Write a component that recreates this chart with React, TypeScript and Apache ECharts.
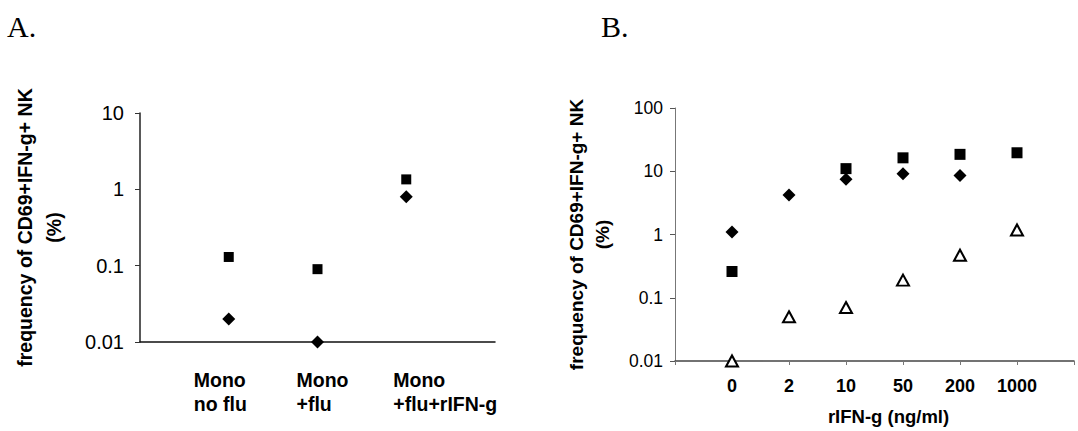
import React, { useEffect, useRef } from "react";
import * as echarts from "echarts";

// Panel A
const catsA = ["Mono\nno flu", "Mono\n+flu", "Mono\n+flu+rIFN-g"];
const squaresA = [0.13, 0.09, 1.35];
const diamondsA = [0.02, 0.01, 0.8];
const labelWidthsA = [70, 42, 26];

// Panel B
const dosesB = ["0", "2", "10", "50", "200", "1000"];
const squaresB: (number | null)[] = [0.26, null, 11, 16.3, 18.5, 19.6];
const diamondsB: (number | null)[] = [1.1, 4.2, 7.5, 9.1, 8.6, null];
const trianglesB = [0.01, 0.05, 0.07, 0.19, 0.47, 1.18];

const yTitle = "frequency of CD69+IFN-g+ NK\n(%)";
const SANS = "Liberation Sans, Arial, sans-serif";
const SERIF = "Liberation Serif, Times New Roman, serif";

const toPts = (vals: (number | null)[]) =>
  vals.map((v, i) => (v == null ? null : [i + 1, v])).filter((p) => p) as number[][];

const fmtLog = (v: number) => String(Number(v.toPrecision(6)));

export default function App() {
  const ref = useRef<HTMLDivElement>(null);
  useEffect(() => {
    if (!ref.current) return;
    const chart = echarts.init(ref.current, null, { renderer: "svg" });
    const rich: Record<string, any> = {};
    labelWidthsA.forEach((w, i) => {
      rich["c" + i] = { width: w, align: "left", fontSize: 19.5, fontWeight: "bold", fontFamily: SANS, color: "#000", lineHeight: 24 };
    });
    const solid = (c: string) => ({ color: c, opacity: 1 });
    chart.setOption({
      animation: false,
      backgroundColor: "#fff",
      textStyle: { fontFamily: SANS },
      graphic: [
        { type: "text", left: 7, top: 11, style: { text: "A.", fontSize: 30, fontFamily: SERIF, fill: "#000" } },
        { type: "text", left: 601, top: 11, style: { text: "B.", fontSize: 30, fontFamily: SERIF, fill: "#000" } },
      ],
      grid: [
        { left: 140, top: 113, width: 355, height: 229 },
        { left: 675, top: 108, width: 399, height: 259 },
      ],
      xAxis: [
        {
          gridIndex: 0,
          type: "value",
          min: 0,
          max: catsA.length + 1,
          interval: 1,
          splitLine: { show: false },
          axisTick: { show: false },
          axisLine: { lineStyle: { color: "#111", width: 1.5 } },
          axisLabel: {
            margin: 26,
            fontSize: 19.5,
            fontWeight: "bold",
            color: "#000",
            rich,
            formatter: (v: number) => {
              const i = Math.round(v) - 1;
              if (i < 0 || i >= catsA.length) return "";
              return catsA[i]
                .split("\n")
                .map((s) => `{c${i}|${s}}`)
                .join("\n");
            },
          },
        },
        {
          gridIndex: 1,
          type: "value",
          min: 0,
          max: dosesB.length + 1,
          interval: 1,
          splitLine: { show: false },
          axisTick: { show: true, length: 4, lineStyle: { color: "#777" } },
          axisLine: { lineStyle: { color: "#444", width: 1.5 } },
          axisLabel: {
            margin: 16,
            fontSize: 18,
            fontWeight: "bold",
            color: "#000",
            formatter: (v: number) => dosesB[Math.round(v) - 1] ?? "",
          },
          name: "rIFN-g (ng/ml)",
          nameLocation: "middle",
          nameGap: 46,
          nameTextStyle: { fontSize: 18.5, fontWeight: "bold", color: "#000", padding: [0, 0, 0, 28] },
        },
      ],
      yAxis: [
        {
          gridIndex: 0,
          type: "log",
          logBase: 10,
          min: 0.01,
          max: 10,
          splitLine: { show: false },
          minorTick: { show: false },
          axisTick: { show: true, length: 5, lineStyle: { color: "#333" } },
          axisLine: { show: true, lineStyle: { color: "#222", width: 1.5 } },
          axisLabel: { margin: 16, fontSize: 20, color: "#000", formatter: fmtLog },
          name: yTitle,
          nameLocation: "middle",
          nameRotate: 90,
          nameGap: 72,
          nameTextStyle: { fontSize: 19.5, fontWeight: "bold", color: "#000", lineHeight: 29, align: "center" },
        },
        {
          gridIndex: 1,
          type: "log",
          logBase: 10,
          min: 0.01,
          max: 100,
          splitLine: { show: false },
          minorTick: { show: false },
          axisTick: { show: true, length: 5, lineStyle: { color: "#555" } },
          axisLine: { show: true, lineStyle: { color: "#777", width: 1 } },
          axisLabel: { margin: 12, fontSize: 17.5, color: "#000", formatter: fmtLog },
          name: yTitle,
          nameLocation: "middle",
          nameRotate: 90,
          nameGap: 60,
          nameTextStyle: { fontSize: 19, fontWeight: "bold", color: "#000", lineHeight: 26, align: "center" },
        },
      ],
      series: [
        {
          type: "scatter", xAxisIndex: 0, yAxisIndex: 0, clip: false,
          symbol: "rect", symbolSize: 10, itemStyle: solid("#000"),
          data: toPts(squaresA),
        },
        {
          type: "scatter", xAxisIndex: 0, yAxisIndex: 0, clip: false,
          symbol: "diamond", symbolSize: 13, itemStyle: solid("#000"),
          data: toPts(diamondsA),
        },
        {
          type: "scatter", xAxisIndex: 1, yAxisIndex: 1, clip: false,
          symbol: "rect", symbolSize: 11, itemStyle: solid("#000"),
          data: toPts(squaresB),
        },
        {
          type: "scatter", xAxisIndex: 1, yAxisIndex: 1, clip: false,
          symbol: "diamond", symbolSize: 13, itemStyle: solid("#000"),
          data: toPts(diamondsB),
        },
        {
          type: "scatter", xAxisIndex: 1, yAxisIndex: 1, clip: false,
          symbol: "triangle", symbolSize: [12, 11],
          itemStyle: { color: "#fff", opacity: 1, borderColor: "#000", borderWidth: 2 },
          data: toPts(trianglesB),
        },
      ],
    });
    return () => chart.dispose();
  }, []);
  return (
    <div
      ref={ref}
      style={{ position: "absolute", left: 0, top: 0, width: 1078, height: 431, background: "#fff" }}
    />
  );
}
